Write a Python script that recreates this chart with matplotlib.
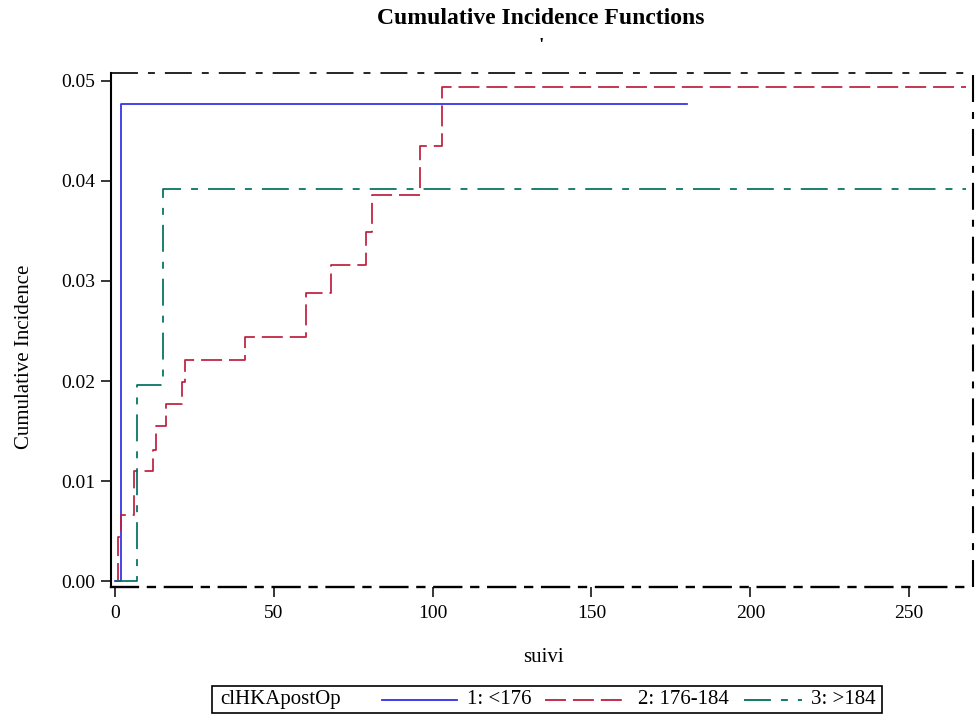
import matplotlib
matplotlib.use("Agg")
import matplotlib.pyplot as plt
from matplotlib.lines import Line2D
from matplotlib.patches import Rectangle

plt.rcParams['font.family'] = ['Liberation Serif', 'DejaVu Serif']
plt.rcParams['lines.scale_dashes'] = False

# donnees
t1 = [0, 2, 180]
ci1 = [0.0, 0.0477, 0.0477]

t2 = [0, 1, 2, 6, 12, 13, 16, 21, 22, 41, 60, 68, 79, 81, 96, 103, 268]
ci2 = [0.0, 0.0044, 0.0066, 0.0110, 0.0131, 0.0155, 0.0177, 0.0199, 0.0221,
       0.0244, 0.0288, 0.0316, 0.0349, 0.0386, 0.0435, 0.0494, 0.0494]

t3 = [0, 7, 15, 268]
ci3 = [0.0, 0.0196, 0.0392, 0.0392]

labels = ['1: <176', '2: 176-184', '3: >184']
colors = ['#2E2EE6', '#BE1E3C', '#00705E']
xticks = [0, 50, 100, 150, 200, 250]
yticks = [0.00, 0.01, 0.02, 0.03, 0.04, 0.05]

W, H = 975, 716
dash = (0, (15.1, 5.0))
dashdot = (0, (19.4, 7.2, 5.0, 7.2))
styles = ['-', dash, dashdot]


def fx(x):
    return x / W


def fy(y):
    return 1 - y / H


fig = plt.figure(figsize=(W / 100, H / 100), dpi=100)
ax = fig.add_axes([fx(110.7), fy(586.5), fx(972.7) - fx(110.7), fy(73.3) - fy(586.5)])

for t, ci, c, ls in zip([t1, t2, t3], [ci1, ci2, ci3], colors, styles):
    ax.step(t, ci, where='post', color=c, linestyle=ls, linewidth=1.25)

ax.set_xlim(-1.35, 270)
ax.set_ylim(-0.0005, 0.05072)
ax.set_xticks(xticks)
ax.set_yticks(yticks)
ax.set_yticklabels([f"{v:.2f}" for v in yticks])
ax.tick_params(direction='out', length=7.5, width=1.1, labelsize=14)
ax.tick_params(axis='x', pad=6)

# cadre: gauche plein, le reste en tiret-point
for s in ['top', 'right']:
    ax.spines[s].set_visible(False)
ax.spines['left'].set_linewidth(1.5)
ax.spines['bottom'].set_linewidth(1.7)
ax.spines['bottom'].set_linestyle(dashdot)
ax.plot([0, 1], [1, 1], transform=ax.transAxes, color='black', lw=1.2,
        linestyle=dashdot, clip_on=False)
ax.plot([1, 1], [0, 1], transform=ax.transAxes, color='black', lw=1.5,
        linestyle=dashdot, clip_on=False)

fig.text(fx(543), fy(658), 'suivi', ha='center', va='center', fontsize=15)
fig.text(fx(25), fy(357), 'Cumulative Incidence', ha='center', va='center',
         rotation=90, fontsize=15)

fig.text(fx(541), fy(18), 'Cumulative Incidence Functions', ha='center', va='center',
         fontsize=17, fontweight='bold')
fig.text(fx(541), fy(47), "'", ha='center', va='center', fontsize=14, fontweight='bold')

# legende
fig.patches.append(Rectangle((fx(211.7), fy(713)), fx(882) - fx(211.7), fy(686) - fy(713),
                             transform=fig.transFigure, fill=False, edgecolor='black',
                             linewidth=1.2))
ly = fy(699.5)
fig.text(fx(220), ly, 'clHKApostOp', ha='left', va='center', fontsize=15)
seg = [(382, 457, 467), (545, 628, 638), (744, 802, 811)]
for (a, b, tx), c, ls, lab in zip(seg, colors, styles, labels):
    fig.lines.append(Line2D([fx(a), fx(b)], [ly, ly], transform=fig.transFigure,
                            color=c, linestyle=ls, linewidth=1.3))
    fig.text(fx(tx), ly, lab, ha='left', va='center', fontsize=15)

plt.savefig('out.png', dpi=100)
